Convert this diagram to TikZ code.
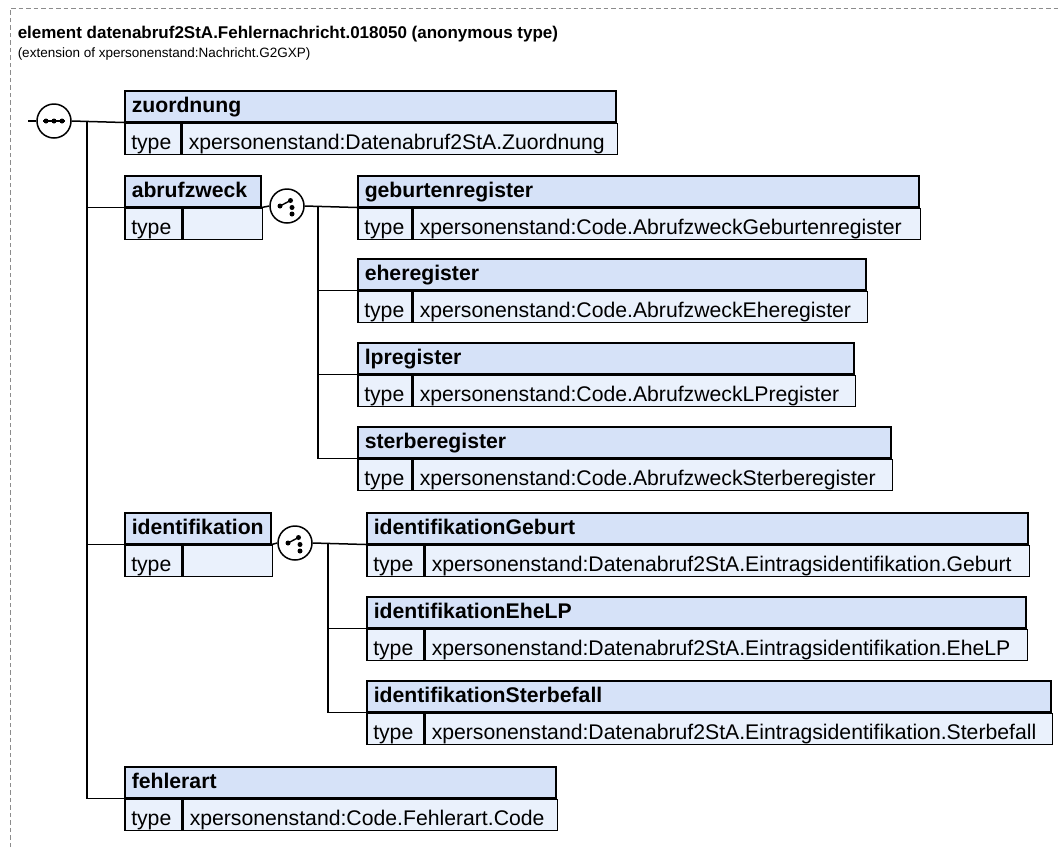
\documentclass[tikz,border=0pt]{standalone}
\usepackage{fontspec}
\setmainfont{Liberation Sans}
\usepackage{xcolor}
\usepackage{tikz}
\usetikzlibrary{positioning}
\definecolor{hdrblue}{RGB}{214,226,248}
\definecolor{rowblue}{RGB}{234,241,252}
\definecolor{framegray}{RGB}{140,140,140}
\newcommand{\elemfont}{\fontsize{21.2}{25}\selectfont}

\begin{document}
\begin{tikzpicture}[x=1pt,y=-1pt,line width=1.5pt,
	hdr/.style={draw,fill=hdrblue,font=\elemfont\bfseries,anchor=north west,align=left,
		inner xsep=7pt,inner ysep=0pt,minimum height=31pt,text height=15.5pt,text depth=2.5pt},
	typ/.style={draw,fill=rowblue,font=\elemfont,anchor=north west,align=left,
		inner xsep=6.5pt,inner ysep=0pt,minimum height=31pt,text height=21.5pt,text depth=0pt},
	comp/.style={draw,fill=white,circle,minimum size=34pt,inner sep=0pt},
	pip/.style={fill=black}]
	\useasboundingbox (0,0) rectangle (1059,847);
	\draw[framegray,line width=1pt,dash pattern=on 4.5pt off 3pt] (10,847) -- (10,8) -- (1059,8);
	\node[anchor=base west,inner sep=0pt,font=\fontsize{17}{21}\selectfont\bfseries] (title) at (17,38) {element datenabruf2StA.Fehlernachricht.018050 (anonymous type)};
	\node[anchor=base west,inner sep=0pt,font=\fontsize{13.5}{17}\selectfont] (ext) at (17,57) {(extension of xpersonenstand:Nachricht.G2GXP)};

	% elements
	\node[hdr,text width=477pt] (zu) at (124,90) {zuordnung};
	\node[typ,text width=43pt] (zu-t) at (zu.south west) {type};
	\node[typ,text width=422pt] (zu-v) at (zu-t.north east) {xpersonenstand:Datenabruf2StA.Zuordnung};
	\node[hdr,text width=122pt] (ab) at (124,175) {abrufzweck};
	\node[typ,text width=44pt] (ab-t) at (ab.south west) {type};
	\node[typ,text width=66pt] (ab-v) at (ab-t.north east) {};
	\node[hdr,text width=547pt] (ge) at (357,175) {geburtenregister};
	\node[typ,text width=41pt] (ge-t) at (ge.south west) {type};
	\node[typ,text width=494pt] (ge-v) at (ge-t.north east) {xpersonenstand:Code.AbrufzweckGeburtenregister};
	\node[hdr,text width=494pt] (eh) at (357,258) {eheregister};
	\node[typ,text width=41pt] (eh-t) at (eh.south west) {type};
	\node[typ,text width=441pt] (eh-v) at (eh-t.north east) {xpersonenstand:Code.AbrufzweckEheregister};
	\node[hdr,text width=482pt] (lp) at (357,342) {lpregister};
	\node[typ,text width=41pt] (lp-t) at (lp.south west) {type};
	\node[typ,text width=429pt] (lp-v) at (lp-t.north east) {xpersonenstand:Code.AbrufzweckLPregister};
	\node[hdr,text width=519pt] (st) at (357,426) {sterberegister};
	\node[typ,text width=41pt] (st-t) at (st.south west) {type};
	\node[typ,text width=466pt] (st-v) at (st-t.north east) {xpersonenstand:Code.AbrufzweckSterberegister};
	\node[hdr,text width=132pt] (id) at (124,512) {identifikation};
	\node[typ,text width=44pt] (id-t) at (id.south west) {type};
	\node[typ,text width=76pt] (id-v) at (id-t.north east) {};
	\node[hdr,text width=647pt] (ig) at (366,512) {identifikationGeburt};
	\node[typ,text width=44pt] (ig-t) at (ig.south west) {type};
	\node[typ,text width=591pt] (ig-v) at (ig-t.north east) {xpersonenstand:Datenabruf2StA.Eintragsidentifikation.Geburt};
	\node[hdr,text width=645pt] (ie) at (366,596) {identifikationEheLP};
	\node[typ,text width=44pt] (ie-t) at (ie.south west) {type};
	\node[typ,text width=589pt] (ie-v) at (ie-t.north east) {xpersonenstand:Datenabruf2StA.Eintragsidentifikation.EheLP};
	\node[hdr,text width=670pt] (is) at (366,680) {identifikationSterbefall};
	\node[typ,text width=44pt] (is-t) at (is.south west) {type};
	\node[typ,text width=614pt] (is-v) at (is-t.north east) {xpersonenstand:Datenabruf2StA.Eintragsidentifikation.Sterbefall};
	\node[hdr,text width=417pt] (fe) at (124,766) {fehlerart};
	\node[typ,text width=44pt] (fe-t) at (fe.south west) {type};
	\node[typ,text width=361pt] (fe-v) at (fe-t.north east) {xpersonenstand:Code.Fehlerart.Code};

	% compositors
	\node[comp] (seq) at (54,121) {};
	\fill[pip] ([xshift=-8pt]seq.center) circle (2.5pt) (seq.center) circle (2.5pt) ([xshift=8pt]seq.center) circle (2.5pt);
	\draw[line width=1.4pt] ([xshift=-11pt]seq.center) -- ([xshift=11pt]seq.center);
	\node[comp] (ch1) at (287,206) {};
	\fill[pip] ([xshift=-7pt]ch1.center) circle (2.5pt) ([shift={(3.5pt,5.5pt)}]ch1.center) circle (2.5pt)
		([shift={(5pt,-1.5pt)}]ch1.center) circle (2.5pt) ([shift={(5pt,-8pt)}]ch1.center) circle (2.5pt);
	\draw[line width=1.4pt] ([xshift=-7pt]ch1.center) -- ([shift={(3.5pt,5.5pt)}]ch1.center);
	\node[comp] (ch2) at (295,543) {};
	\fill[pip] ([xshift=-7pt]ch2.center) circle (2.5pt) ([shift={(3.5pt,5.5pt)}]ch2.center) circle (2.5pt)
		([shift={(5pt,-1.5pt)}]ch2.center) circle (2.5pt) ([shift={(5pt,-8pt)}]ch2.center) circle (2.5pt);
	\draw[line width=1.4pt] ([xshift=-7pt]ch2.center) -- ([shift={(3.5pt,5.5pt)}]ch2.center);

	% connectors
	\coordinate (start) at (28,121);
	\coordinate (trunk) at (87,121);
	\coordinate (fork1) at (318,206);
	\coordinate (fork2) at (328,543);
	\draw (start) -- (seq.west);
	\draw (seq.east) -- (zu.south west);
	\draw (trunk) |- (fe.south west);
	\draw (trunk |- ab.south west) -- (ab.south west);
	\draw (trunk |- id.south west) -- (id.south west);
	\draw (ab.south east) -- (ch1.west);
	\draw (ch1.east) -- (ge.south west);
	\draw (fork1) |- (st.south west);
	\draw (fork1 |- eh.south west) -- (eh.south west);
	\draw (fork1 |- lp.south west) -- (lp.south west);
	\draw (id.south east) -- (ch2.west);
	\draw (ch2.east) -- (ig.south west);
	\draw (fork2) |- (is.south west);
	\draw (fork2 |- ie.south west) -- (ie.south west);
\end{tikzpicture}
\end{document}
